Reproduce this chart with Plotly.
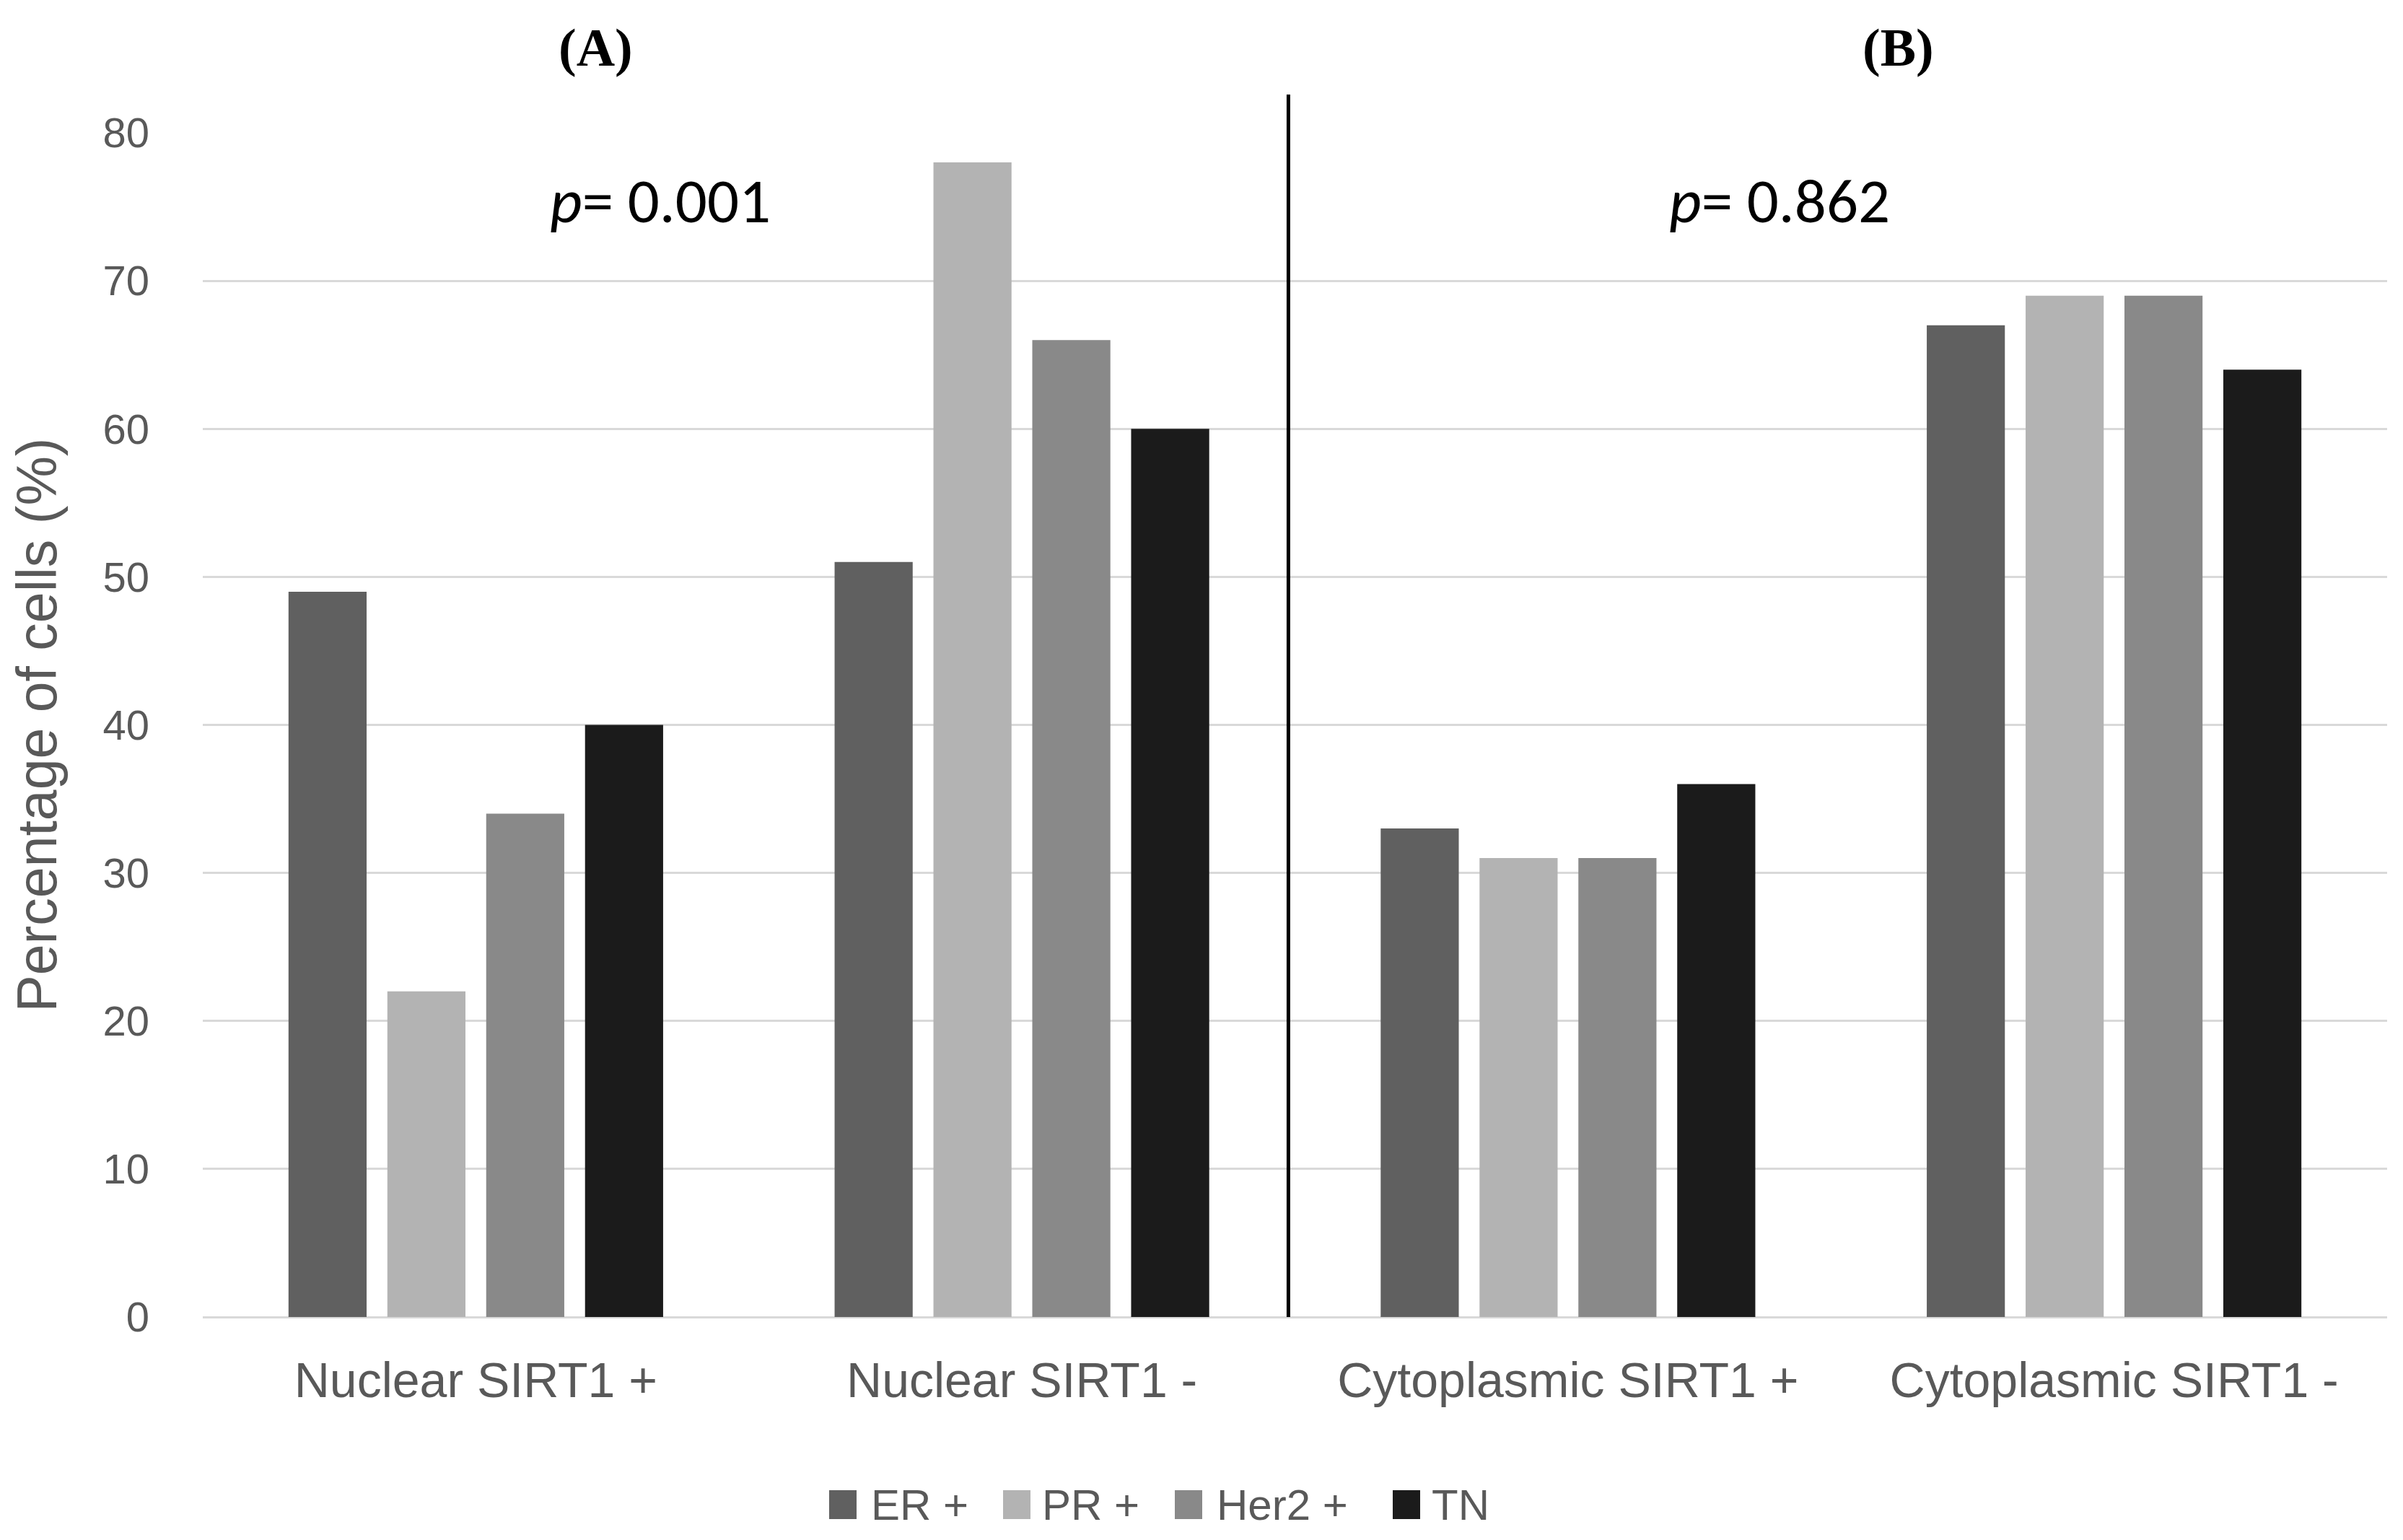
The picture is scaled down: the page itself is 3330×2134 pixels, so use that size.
import plotly.graph_objects as go

categories = ["Nuclear SIRT1 +", "Nuclear SIRT1 -", "Cytoplasmic SIRT1 +", "Cytoplasmic SIRT1 -"]
series_names = ["ER +", "PR +", "Her2 +", "TN"]
er_values = [49, 51, 33, 67]
pr_values = [22, 78, 31, 69]
her2_values = [34, 66, 31, 69]
tn_values = [40, 60, 36, 64]
y_ticks = [0, 10, 20, 30, 40, 50, 60, 70, 80]
panel_labels = ["(A)", "(B)"]
p_labels = ["0.001", "0.862"]

colors = ["#606060", "#b3b3b3", "#898989", "#1b1b1b"]
values = [er_values, pr_values, her2_values, tn_values]

W, H = 3330, 2134
ML, MR, MT, MB = 273, 30, 176, 317
PW, PH = W - ML - MR, H - MT - MB
TXT = "#595959"
FONT = "Liberation Sans, Arial, sans-serif"


def px_x(px):
    return (px - ML) / PW


def px_y(py):
    return (H - MB - py) / PH


fig = go.Figure()
for name, vals, col in zip(series_names, values, colors):
    fig.add_trace(go.Bar(name=name, x=categories, y=vals, showlegend=False,
                         marker=dict(color=col, line=dict(width=0))))

fig.update_layout(
    width=W, height=H,
    margin=dict(l=ML, r=MR, t=MT, b=MB, autoexpand=False),
    paper_bgcolor="white", plot_bgcolor="white",
    barmode="group", bargap=0.276, bargroupgap=0.21,
    font=dict(family=FONT, color=TXT, size=58),
    showlegend=False,
)
fig.update_xaxes(showgrid=False, showline=False, zeroline=False, ticks="",
                 tickfont=dict(size=68, color=TXT), ticklabelstandoff=42)
fig.update_yaxes(range=[0, 80], tickvals=y_ticks, showgrid=True, gridcolor="#d9d9d9", gridwidth=3,
                 zeroline=True, zerolinecolor="#d9d9d9", zerolinewidth=3, showline=False, ticks="",
                 tickfont=dict(size=58, color=TXT), ticklabelstandoff=73,
                 title=dict(text="Percentage of cells (%)", font=dict(size=77, color=TXT), standoff=48))

# divider between panels
fig.add_shape(type="line", xref="x", yref="paper", x0=1.488, x1=1.488, y0=0, y1=px_y(123),
              line=dict(color="black", width=5))

# panel labels
for lab, px in zip(panel_labels, [817, 2622]):
    fig.add_annotation(text="<b>" + lab + "</b>", xref="paper", yref="paper",
                       x=px_x(px), y=px_y(58),
                       showarrow=False, xanchor="center", yanchor="middle",
                       font=dict(family="Liberation Serif, Times New Roman, serif", size=74, color="black"))

# p values
for pv, px in zip(p_labels, [907, 2458]):
    fig.add_annotation(text="<i>p</i>= " + pv, xref="paper", yref="paper",
                       x=px_x(px), y=px_y(270),
                       showarrow=False, xanchor="center", yanchor="middle",
                       font=dict(family="Carlito, Calibri, Liberation Sans Narrow, Liberation Sans, sans-serif",
                                 size=87, color="black"))

# legend (drawn as keys + labels, larger than Plotly's fixed legend symbols)
legend_sq_x = [1141, 1382, 1620, 1922]
legend_txt_x = [1197, 1434, 1676, 1974]
LY = 2077
for name, col, sx, tx in zip(series_names, colors, legend_sq_x, legend_txt_x):
    fig.add_shape(type="rect", xref="paper", yref="paper",
                  x0=px_x(sx), x1=px_x(sx + 38), y0=px_y(LY + 20), y1=px_y(LY - 20),
                  fillcolor=col, line=dict(width=0))
    fig.add_annotation(text=name, xref="paper", yref="paper", x=px_x(tx), y=px_y(LY),
                       showarrow=False, xanchor="left", yanchor="middle",
                       font=dict(size=60, color=TXT))

fig.write_html("out.html")
